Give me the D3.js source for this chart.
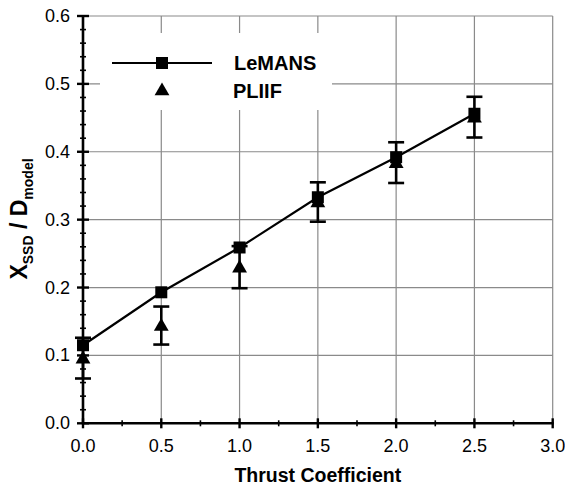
<!DOCTYPE html>
<html>
<head>
<meta charset="utf-8">
<script src="https://cdn.jsdelivr.net/npm/d3@7"></script>
<style>
  body { margin: 0; background: #fff; }
  text { font-family: "Liberation Sans", Arial, sans-serif; }
</style>
</head>
<body>
<div id="chart"></div>
<script>
// thrust coefficient values
const thrust = [0.0, 0.5, 1.0, 1.5, 2.0, 2.5];
// LeMANS computed standoff distance
const lemans = [0.115, 0.193, 0.259, 0.333, 0.392, 0.456];
// PLIIF measurements and their uncertainty
const pliif = [0.096, 0.144, 0.230, 0.326, 0.384, 0.451];
const pliifErr = [0.030, 0.028, 0.031, 0.029, 0.030, 0.030];

const xTicks = [0, 0.5, 1, 1.5, 2, 2.5, 3];
const yTicks = [0, 0.1, 0.2, 0.3, 0.4, 0.5, 0.6];

const width = 565, height = 485;
const margin = { top: 16, right: 12, bottom: 62, left: 83 };

const svg = d3.select("#chart").append("svg")
    .attr("width", width)
    .attr("height", height);

const x = d3.scaleLinear().domain([0, 3])
    .range([margin.left, width - margin.right - 0.3]);
const y = d3.scaleLinear().domain([0, 0.6])
    .range([height - margin.bottom + 0.3, margin.top]);

// grid
const grid = svg.append("g").attr("stroke", "#8a8a8a").attr("stroke-width", 1.2);
grid.selectAll(".gx").data(xTicks.slice(1)).enter().append("line")
    .attr("x1", d => x(d)).attr("x2", d => x(d))
    .attr("y1", y(0)).attr("y2", y(0.6));
grid.selectAll(".gy").data(yTicks.slice(1)).enter().append("line")
    .attr("x1", x(0)).attr("x2", x(3))
    .attr("y1", d => y(d)).attr("y2", d => y(d));

// legend background hides the grid
svg.append("rect")
    .attr("x", 100).attr("y", 33)
    .attr("width", 232).attr("height", 77)
    .attr("fill", "#fff");

// axes
const yMinor = d3.range(0, 0.6001, 0.02).filter(v => Math.abs(v * 10 - Math.round(v * 10)) > 1e-6);
const xMinor = [0.25, 0.75, 1.25, 1.75, 2.25, 2.75];
const ax = svg.append("g").attr("stroke", "#000");

ax.append("line").attr("x1", x(0)).attr("x2", x(0))
    .attr("y1", y(0) + 1).attr("y2", y(0.6) - 1).attr("stroke-width", 2.6);
ax.append("line").attr("x1", x(0) - 1).attr("x2", x(3) + 1)
    .attr("y1", y(0)).attr("y2", y(0)).attr("stroke-width", 2.6);

ax.selectAll(".ymaj").data(yTicks).enter().append("line")
    .attr("x1", x(0) - 6).attr("x2", x(0) + 6)
    .attr("y1", d => y(d)).attr("y2", d => y(d)).attr("stroke-width", 2.4);
ax.selectAll(".ymin").data(yMinor).enter().append("line")
    .attr("x1", x(0) - 3).attr("x2", x(0) + 3)
    .attr("y1", d => y(d)).attr("y2", d => y(d)).attr("stroke-width", 1.6);
ax.selectAll(".xmaj").data(xTicks).enter().append("line")
    .attr("x1", d => x(d)).attr("x2", d => x(d))
    .attr("y1", y(0) - 5).attr("y2", y(0) + 5).attr("stroke-width", 2.4);
ax.selectAll(".xmin").data(xMinor).enter().append("line")
    .attr("x1", d => x(d)).attr("x2", d => x(d))
    .attr("y1", y(0) - 3).attr("y2", y(0) + 3).attr("stroke-width", 1.6);

svg.append("g").selectAll("text").data(yTicks).enter().append("text")
    .attr("x", x(0) - 13).attr("y", d => y(d) + 6)
    .attr("text-anchor", "end")
    .style("font-size", "18px")
    .text(d => d.toFixed(1));

svg.append("g").selectAll("text").data(xTicks).enter().append("text")
    .attr("x", d => x(d)).attr("y", y(0) + 29)
    .attr("text-anchor", "middle")
    .style("font-size", "18px")
    .text(d => d.toFixed(1));

svg.append("text")
    .attr("x", (x(0) + x(3)) / 2).attr("y", 482)
    .attr("text-anchor", "middle")
    .style("font-size", "19.5px").style("font-weight", "bold")
    .text("Thrust Coefficient");

const yt = svg.append("text")
    .attr("transform", "translate(27,219) rotate(-90)")
    .attr("text-anchor", "middle")
    .style("font-size", "23px").style("font-weight", "bold");
yt.append("tspan").text("X");
yt.append("tspan").attr("dy", 6).style("font-size", "14px").text("SSD");
yt.append("tspan").attr("dy", -6).text(" / D");
yt.append("tspan").attr("dy", 6).style("font-size", "14px").text("model");

// PLIIF error bars and triangles
const tri = d3.symbol().type(d3.symbolTriangle).size(95);
const eb = svg.append("g").attr("stroke", "#000").attr("stroke-width", 2.6);
thrust.forEach((t, i) => {
    const lo = pliif[i] - pliifErr[i], hi = pliif[i] + pliifErr[i];
    eb.append("line").attr("x1", x(t)).attr("x2", x(t)).attr("y1", y(lo)).attr("y2", y(hi));
    eb.append("line").attr("x1", x(t) - 8).attr("x2", x(t) + 8).attr("y1", y(lo)).attr("y2", y(lo));
    eb.append("line").attr("x1", x(t) - 8).attr("x2", x(t) + 8).attr("y1", y(hi)).attr("y2", y(hi));
});
svg.append("g").selectAll("path").data(thrust).enter().append("path")
    .attr("d", tri)
    .attr("transform", (d, i) => `translate(${x(d)},${y(pliif[i]) + 1})`)
    .attr("fill", "#000");

// LeMANS line with squares
const line = d3.line().x(d => x(d[0])).y(d => y(d[1]));
svg.append("path")
    .datum(thrust.map((t, i) => [t, lemans[i]]))
    .attr("d", line)
    .attr("fill", "none").attr("stroke", "#000").attr("stroke-width", 2.2);
svg.append("g").selectAll("rect").data(thrust).enter().append("rect")
    .attr("x", d => x(d) - 6).attr("y", (d, i) => y(lemans[i]) - 6)
    .attr("width", 12).attr("height", 12)
    .attr("fill", "#000");

// legend
const lg = svg.append("g");
lg.append("line").attr("x1", 112).attr("x2", 212).attr("y1", 63).attr("y2", 63)
    .attr("stroke", "#000").attr("stroke-width", 2.2);
lg.append("rect").attr("x", 156).attr("y", 57).attr("width", 12).attr("height", 12).attr("fill", "#000");
lg.append("path").attr("d", tri).attr("transform", "translate(162,91)").attr("fill", "#000");
lg.append("text").attr("x", 234).attr("y", 70)
    .style("font-size", "20px").style("font-weight", "bold").text("LeMANS");
lg.append("text").attr("x", 233).attr("y", 98)
    .style("font-size", "20px").style("font-weight", "bold").text("PLIIF");
</script>
</body>
</html>
